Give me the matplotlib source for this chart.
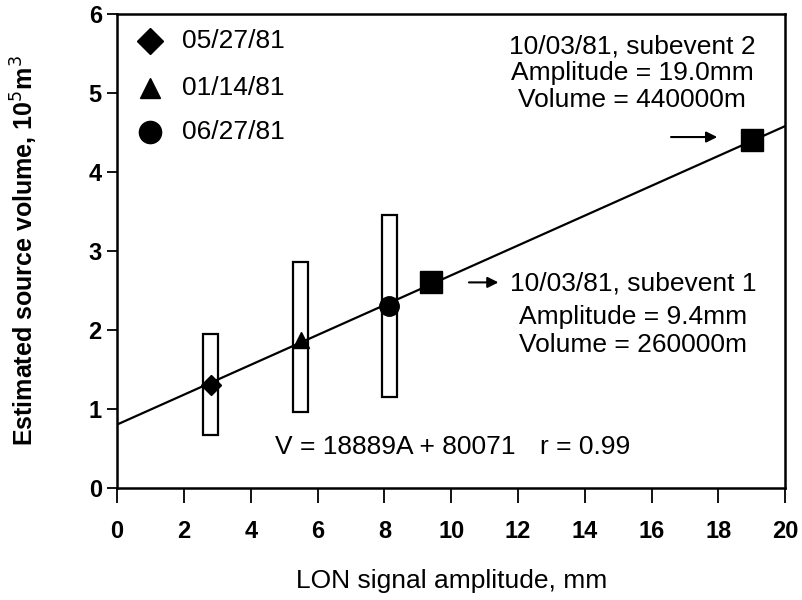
import matplotlib
matplotlib.use("Agg")
import matplotlib.pyplot as plt
from matplotlib.patches import Rectangle
import numpy as np

plt.rcParams['font.family'] = ['Liberation Sans', 'DejaVu Sans']

# Data (volume in 10^5 m^3)
event_labels = ["05/27/81", "01/14/81", "06/27/81"]
event_markers = ["D", "^", "o"]
event_amp = [2.8, 5.5, 8.15]
event_vol = [1.3, 1.87, 2.3]
box_low = [0.67, 0.96, 1.15]
box_high = [1.95, 2.86, 3.45]
box_width = 0.45

sub_amp = [9.4, 19.0]
sub_vol = [2.6, 4.4]

slope = 0.18889
intercept = 0.80071

x_ticks = list(range(0, 21, 2))
y_ticks = list(range(0, 7))

FS = 19

fig = plt.figure(figsize=(8.02, 6.0), dpi=100)
ax = fig.add_axes([0.146, 0.187, 0.833, 0.79])
ax.set_xlim(0, 20)
ax.set_ylim(0, 6)

# error boxes
for a, lo, hi in zip(event_amp, box_low, box_high):
    ax.add_patch(Rectangle((a - box_width / 2, lo), box_width, hi - lo,
                           facecolor="white", edgecolor="black", lw=1.6, zorder=2))

# regression line
xl = np.array([0, 20])
ax.plot(xl, slope * xl + intercept, color="black", lw=1.6, zorder=3)

# event markers
sizes = [10, 11, 14]
for a, v, m, s in zip(event_amp, event_vol, event_markers, sizes):
    ax.plot([a], [v], marker=m, color="black", markersize=s, zorder=4, linestyle="none")

ax.plot(sub_amp, sub_vol, marker="s", color="black", markersize=16,
        linestyle="none", zorder=4)

# legend (manual)
leg_y = [5.65, 5.06, 4.5]
for m, lab, yy, s in zip(event_markers, event_labels, leg_y, [13, 14, 16]):
    ax.plot([0.99], [yy], marker=m, color="black", markersize=s, linestyle="none")
    ax.text(1.95, yy, lab, fontsize=FS, va="center", ha="left")

# annotations
ax.text(15.42, 5.25, "10/03/81, subevent 2\nAmplitude = 19.0mm\nVolume = 440000m",
        ha="center", va="center", fontsize=FS, linespacing=1.15)
ax.annotate("", xy=(18.05, 4.44), xytext=(16.5, 4.44),
            arrowprops=dict(arrowstyle="-|>", color="black", lw=1.5, mutation_scale=16))

ax.annotate("", xy=(11.5, 2.6), xytext=(10.45, 2.6),
            arrowprops=dict(arrowstyle="-|>", color="black", lw=1.5, mutation_scale=16))
ax.text(11.75, 2.58, "10/03/81, subevent 1", ha="left", va="center", fontsize=FS)
ax.text(15.45, 1.98, "Amplitude = 9.4mm\nVolume = 260000m", ha="center", va="center",
        fontsize=FS, linespacing=1.2)

ax.text(4.73, 0.52, "V = 18889A + 80071", ha="left", va="center", fontsize=FS)
ax.text(12.66, 0.52, "r = 0.99", ha="left", va="center", fontsize=FS)

ax.set_xticks(x_ticks)
ax.set_yticks(y_ticks)
ax.tick_params(axis="x", direction="out", length=11, width=1.3, labelsize=17, pad=12)
ax.tick_params(axis="y", direction="out", length=7, width=1.3, labelsize=17, pad=4)
for lab in ax.get_xticklabels() + ax.get_yticklabels():
    lab.set_fontweight("bold")
for sp in ax.spines.values():
    sp.set_linewidth(1.8)

ax.set_xlabel("LON signal amplitude, mm", fontsize=FS)
ax.xaxis.set_label_coords(0.5, -0.172)
ax.set_ylabel("Estimated source volume, 10$^5$m$^3$", fontsize=18, fontweight="bold")
ax.yaxis.set_label_coords(-0.115, 0.5)

fig.savefig("out.png", dpi=100)
